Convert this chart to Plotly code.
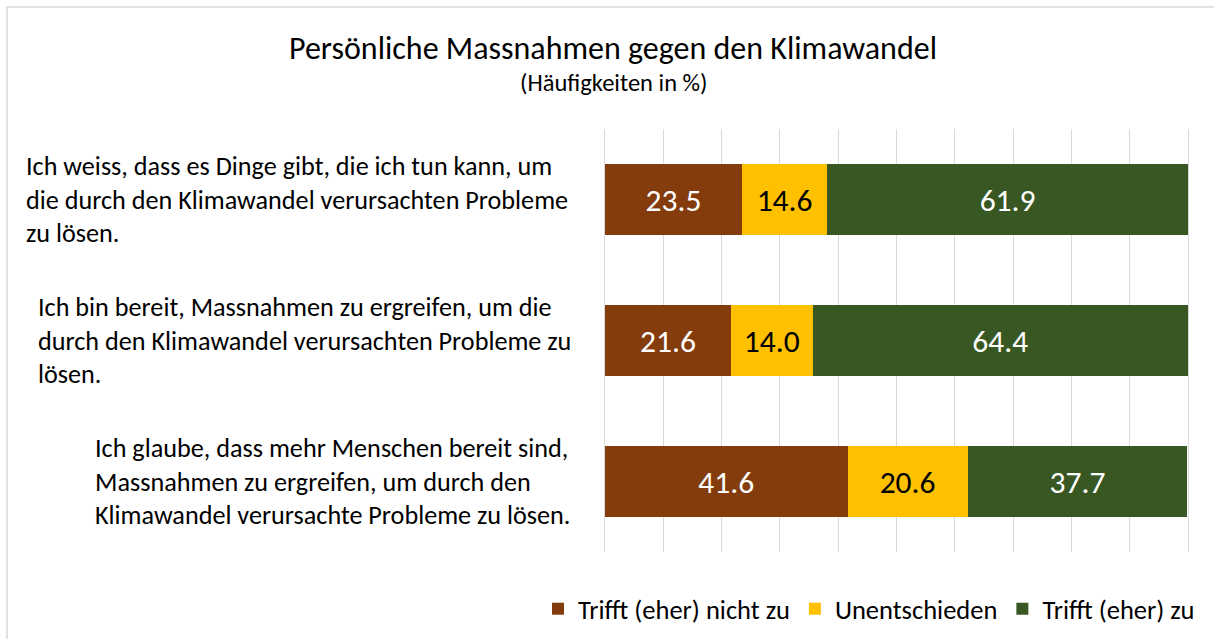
import plotly.graph_objects as go

title = "Persönliche Massnahmen gegen den Klimawandel"
subtitle = "(Häufigkeiten in %)"

categories = ["A", "B", "C"]
category_lines = [
    ["Ich weiss, dass es Dinge gibt, die ich tun kann, um",
     "die durch den Klimawandel verursachten Probleme",
     "zu lösen."],
    ["Ich bin bereit, Massnahmen zu ergreifen, um die",
     "durch den Klimawandel verursachten Probleme zu",
     "lösen."],
    ["Ich glaube, dass mehr Menschen bereit sind,",
     "Massnahmen zu ergreifen, um durch den",
     "Klimawandel verursachte Probleme zu lösen."],
]

series_names = ["Trifft (eher) nicht zu", "Unentschieden", "Trifft (eher) zu"]
not_agree = [23.5, 21.6, 41.6]
undecided = [14.6, 14.0, 20.6]
agree = [61.9, 64.4, 37.7]

colors = ["#843C0C", "#FFC000", "#385723"]
text_colors = ["white", "black", "white"]

FONT = "Carlito, Lato, sans-serif"

W, H = 1214, 639
L, R, T, B = 605, 26, 129, 87
pw = W - L - R
ph = H - T - B

fig = go.Figure()
for name, vals, c, tc in zip(series_names, [not_agree, undecided, agree], colors, text_colors):
    fig.add_trace(go.Bar(
        y=categories, x=vals, name=name, orientation="h",
        marker=dict(color=c, line=dict(width=0)),
        texttemplate="%{x:.1f}", textposition="inside",
        insidetextanchor="middle", textangle=0, constraintext="none",
        textfont=dict(family=FONT, size=31.5, color=tc),
        hoverinfo="x+name",
    ))

annotations = []
# subtitle
annotations.append(dict(
    text=subtitle, xref="paper", yref="paper",
    x=(613 - L) / pw, y=(H - B - 83) / ph, xanchor="center", yanchor="middle",
    showarrow=False, font=dict(family=FONT, size=24.5, color="#000000"),
))

left_px = [24, 36, 93]
for cat, lines, lp in zip(categories, category_lines, left_px):
    for i, line in enumerate(lines):
        annotations.append(dict(
            text=line, xref="paper", yref="y", x=(lp - L) / pw, y=cat,
            xanchor="left", yanchor="middle", yshift=(1 - i) * 33.5,
            showarrow=False, font=dict(family=FONT, size=26.2, color="#000000"),
        ))

fig.update_layout(
    width=W, height=H,
    margin=dict(l=L, r=R, t=T, b=B, autoexpand=False),
    paper_bgcolor="white", plot_bgcolor="white",
    barmode="stack", bargap=0.5,
    title=dict(text=title, x=613 / W, xanchor="center", y=1 - 48 / H, yanchor="middle",
               font=dict(family=FONT, size=32, color="#000000")),
    xaxis=dict(range=[0, 100], dtick=10, showgrid=True, gridcolor="#D9D9D9", gridwidth=1.3,
               showticklabels=False, zeroline=False, showline=False, fixedrange=True),
    yaxis=dict(categoryorder="array", categoryarray=categories, autorange="reversed",
               showticklabels=False, showgrid=False, zeroline=False,
               showline=True, mirror=True, linecolor="#D9D9D9", linewidth=1.3),
    legend=dict(orientation="h", xref="paper", yref="paper",
                x=(538 - L) / pw, xanchor="left", y=(H - B - 609) / ph, yanchor="middle",
                font=dict(family=FONT, size=26.5, color="#000000"),
                traceorder="normal", itemwidth=30, bgcolor="rgba(0,0,0,0)"),
    annotations=annotations,
    showlegend=True,
    shapes=[dict(type="rect", xref="paper", yref="paper",
                 x0=(7 - L) / pw, x1=(1230 - L) / pw,
                 y0=(H - B - 660) / ph, y1=(H - B - 7) / ph,
                 line=dict(color="#D9D9D9", width=1.5), fillcolor="rgba(0,0,0,0)", layer="below")],
)

fig.write_html("out.html", config={"displayModeBar": False},
               post_script="document.body.style.margin='0';")
